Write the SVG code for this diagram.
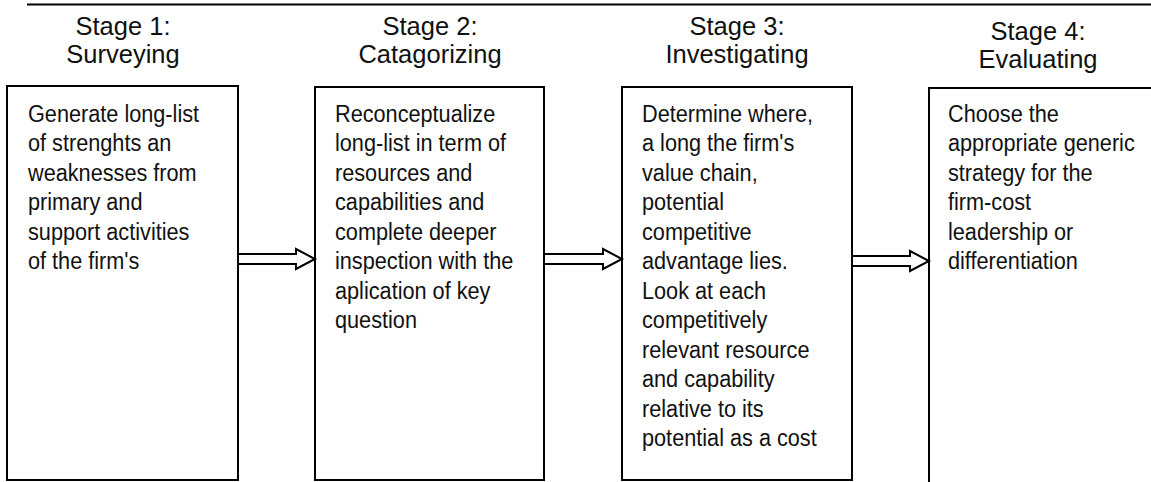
<svg xmlns="http://www.w3.org/2000/svg" width="1151" height="482" viewBox="0 0 1151 482">
<style>
.box{fill:#fff;stroke:#000;stroke-width:2}
.head{font-family:"Liberation Sans",Arial,sans-serif;font-size:25.5px;fill:#111;text-anchor:middle}
.body{font-family:"Liberation Sans",Arial,sans-serif;font-size:24.5px;fill:#111}
.arrow{fill:#fff;stroke:#000;stroke-width:2;stroke-linejoin:miter}
</style>
<rect x="0" y="0" width="1151" height="482" fill="#fff"/>
<line x1="27" y1="4.5" x2="1151" y2="4.5" stroke="#000" stroke-width="2"/>
<g id="stage1">
<text class="head" x="123" y="35">Stage 1:</text>
<text class="head" x="123" y="63">Surveying</text>
<rect class="box" x="7" y="86" width="231" height="394"/>
<g transform="translate(28 0) scale(0.885 1)">
<text class="body"><tspan x="0" y="122">Generate long-list</tspan><tspan x="0" y="151.5">of strenghts an</tspan><tspan x="0" y="181">weaknesses from</tspan><tspan x="0" y="210.5">primary and</tspan><tspan x="0" y="240">support activities</tspan><tspan x="0" y="269.5">of the firm's</tspan></text>
</g>
</g>
<g id="stage2">
<text class="head" x="430" y="35">Stage 2:</text>
<text class="head" x="430" y="63">Catagorizing</text>
<rect class="box" x="315" y="87" width="229" height="393"/>
<g transform="translate(335 0) scale(0.885 1)">
<text class="body"><tspan x="0" y="122">Reconceptualize</tspan><tspan x="0" y="151.5">long-list in term of</tspan><tspan x="0" y="181">resources and</tspan><tspan x="0" y="210.5">capabilities and</tspan><tspan x="0" y="240">complete deeper</tspan><tspan x="0" y="269.5">inspection with the</tspan><tspan x="0" y="299">aplication of key</tspan><tspan x="0" y="328.5">question</tspan></text>
</g>
</g>
<g id="stage3">
<text class="head" x="737" y="35">Stage 3:</text>
<text class="head" x="737" y="63">Investigating</text>
<rect class="box" x="622" y="87" width="230" height="393"/>
<g transform="translate(642 0) scale(0.885 1)">
<text class="body"><tspan x="0" y="122">Determine where,</tspan><tspan x="0" y="151.5">a long the firm's</tspan><tspan x="0" y="181">value chain,</tspan><tspan x="0" y="210.5">potential</tspan><tspan x="0" y="240">competitive</tspan><tspan x="0" y="269.5">advantage lies.</tspan><tspan x="0" y="299">Look at each</tspan><tspan x="0" y="328.5">competitively</tspan><tspan x="0" y="358">relevant resource</tspan><tspan x="0" y="387.5">and capability</tspan><tspan x="0" y="417">relative to its</tspan><tspan x="0" y="446.5">potential as a cost</tspan></text>
</g>
</g>
<g id="stage4">
<text class="head" x="1038" y="40">Stage 4:</text>
<text class="head" x="1038" y="68">Evaluating</text>
<rect class="box" x="929" y="88" width="260" height="420"/>
<g transform="translate(948 0) scale(0.885 1)">
<text class="body"><tspan x="0" y="122">Choose the</tspan><tspan x="0" y="151.5">appropriate generic</tspan><tspan x="0" y="181">strategy for the</tspan><tspan x="0" y="210.5">firm-cost</tspan><tspan x="0" y="240">leadership or</tspan><tspan x="0" y="269.5">differentiation</tspan></text>
</g>
</g>
<g id="connectors">
<polygon class="arrow" points="238,254 296,254 296,249 315,259 296,269 296,264 238,264"/>
<polygon class="arrow" points="544,254 603,254 603,249 622,259 603,269 603,264 544,264"/>
<polygon class="arrow" points="852,256 910,256 910,251 929,261 910,271 910,266 852,266"/>
</g>
</svg>
